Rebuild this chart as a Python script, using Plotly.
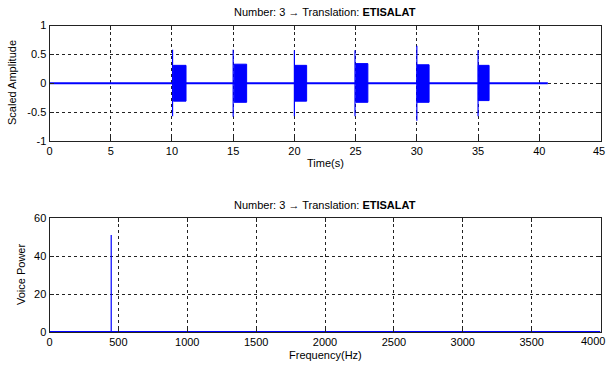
import plotly.graph_objects as go

# ---------------- data ----------------
# Time-domain signal (top panel): six tone bursts
burst_onsets = [10.05, 15.0, 20.0, 24.95, 30.0, 35.0]
onset_peak_pos = [0.58, 0.58, 0.57, 0.57, 0.65, 0.57]
onset_peak_neg = [-0.57, -0.58, -0.57, -0.57, -0.65, -0.57]
block_start = [10.12, 15.08, 20.02, 25.02, 30.02, 35.02]
block_end = [11.15, 16.1, 21.0, 26.0, 31.0, 35.9]
block_upper = [0.31, 0.33, 0.31, 0.34, 0.32, 0.31]
block_lower = [-0.31, -0.33, -0.31, -0.33, -0.33, -0.30]
signal_start = 0.0
signal_end = 40.7

# Spectrum (bottom panel)
freq_range = [0, 4000]
peak_freq = 448
peak_power = 51

time_ticks = [0, 5, 10, 15, 20, 25, 30, 35, 40, 45]
amp_ticks = [-1, -0.5, 0, 0.5, 1]
amp_tick_labels = ["-1", "-0.5", "0", "0.5", "1"]
freq_ticks = [0, 500, 1000, 1500, 2000, 2500, 3000, 3500, 4000]
power_ticks = [0, 20, 40, 60]

title_text = "Number: 3 \u2192 Translation: <b>ETISALAT</b>"

# ---------------- figure ----------------
W, H = 606, 365
BLUE = "#0000ff"
FONT = "Liberation Sans, Arial, sans-serif"

fig = go.Figure()

# baseline of signal
fig.add_trace(go.Scatter(x=[signal_start, signal_end], y=[0, 0], mode="lines",
                         line=dict(color=BLUE, width=2), xaxis="x", yaxis="y",
                         hoverinfo="skip"))
# burst blocks (dense oscillation drawn as filled envelope)
for s, e, u, l in zip(block_start, block_end, block_upper, block_lower):
    fig.add_trace(go.Scatter(x=[s, e, e, s, s], y=[u, u, l, l, u], mode="lines",
                             fill="toself", fillcolor=BLUE,
                             line=dict(color=BLUE, width=1), xaxis="x", yaxis="y",
                             hoverinfo="skip"))
# onset spikes
sx, sy = [], []
for t, p, n in zip(burst_onsets, onset_peak_pos, onset_peak_neg):
    sx += [t, t, None]
    sy += [n, p, None]
fig.add_trace(go.Scatter(x=sx, y=sy, mode="lines", line=dict(color=BLUE, width=1.2),
                         xaxis="x", yaxis="y", hoverinfo="skip"))

# spectrum
fig.add_trace(go.Scatter(x=freq_range, y=[0, 0], mode="lines",
                         line=dict(color=BLUE, width=2), xaxis="x2", yaxis="y2",
                         hoverinfo="skip"))
fig.add_trace(go.Scatter(x=[peak_freq, peak_freq], y=[0, peak_power], mode="lines",
                         line=dict(color=BLUE, width=1.2), xaxis="x2", yaxis="y2",
                         hoverinfo="skip"))

x0, x1 = 49.5 / W, 600.5 / W
top_dom = [1 - 141 / H, 1 - 25.5 / H]
bot_dom = [1 - 332 / H, 1 - 218 / H]

axis_common = dict(showline=True, linecolor="#222", linewidth=1, mirror="ticks",
                   ticks="inside", ticklen=4, tickcolor="#222", automargin=False,
                   showgrid=True, gridcolor="#222", gridwidth=1, griddash="3px,3px",
                   zeroline=False, tickfont=dict(family=FONT, size=11, color="#000"))

fig.update_layout(
    width=W, height=H, margin=dict(l=0, r=0, t=0, b=0, autoexpand=False),
    paper_bgcolor="white", plot_bgcolor="white", showlegend=False,
    xaxis=dict(domain=[x0, x1], anchor="y", range=[0, 45], tickvals=time_ticks, **axis_common),
    yaxis=dict(domain=top_dom, anchor="x", range=[-1, 1], tickvals=amp_ticks,
               ticktext=amp_tick_labels, **axis_common),
    xaxis2=dict(domain=[x0, x1], anchor="y2", range=[0, 4000], tickvals=freq_ticks, **axis_common),
    yaxis2=dict(domain=bot_dom, anchor="x2", range=[0, 60], tickvals=power_ticks, **axis_common),
)

ann_font = dict(family=FONT, size=11, color="#000")
cx = (x0 + x1) / 2
annotations = [
    dict(text=title_text, x=cx, y=1 - 12 / H, xref="paper", yref="paper",
         showarrow=False, font=ann_font, xanchor="center", yanchor="middle"),
    dict(text=title_text, x=cx, y=1 - 205 / H, xref="paper", yref="paper",
         showarrow=False, font=ann_font, xanchor="center", yanchor="middle"),
    dict(text="Time(s)", x=cx, y=1 - 163 / H, xref="paper", yref="paper",
         showarrow=False, font=ann_font, xanchor="center", yanchor="middle"),
    dict(text="Frequency(Hz)", x=cx, y=1 - 355 / H, xref="paper", yref="paper",
         showarrow=False, font=ann_font, xanchor="center", yanchor="middle"),
    dict(text="Scaled Amplitude", x=12 / W, y=1 - 83 / H, xref="paper", yref="paper",
         showarrow=False, font=ann_font, textangle=-90, xanchor="center", yanchor="middle"),
    dict(text="Voice Power", x=21 / W, y=1 - 275 / H, xref="paper", yref="paper",
         showarrow=False, font=ann_font, textangle=-90, xanchor="center", yanchor="middle"),
    # last tick labels at the right edge (plotly drops labels that overflow the page)
    dict(text=str(time_ticks[-1]), x=time_ticks[-1], y=1 - 151 / H, xref="x", yref="paper",
         showarrow=False, font=ann_font, xanchor="center", yanchor="middle", xshift=-2),
    dict(text=str(freq_ticks[-1]), x=freq_ticks[-1], y=1 - 341 / H, xref="x2", yref="paper",
         showarrow=False, font=ann_font, xanchor="right", yanchor="middle", xshift=6),
]
fig.update_layout(annotations=annotations)

fig.write_html("out.html", config={"displayModeBar": False},
               post_script="document.body.style.margin='0';document.body.style.overflow='hidden';")
